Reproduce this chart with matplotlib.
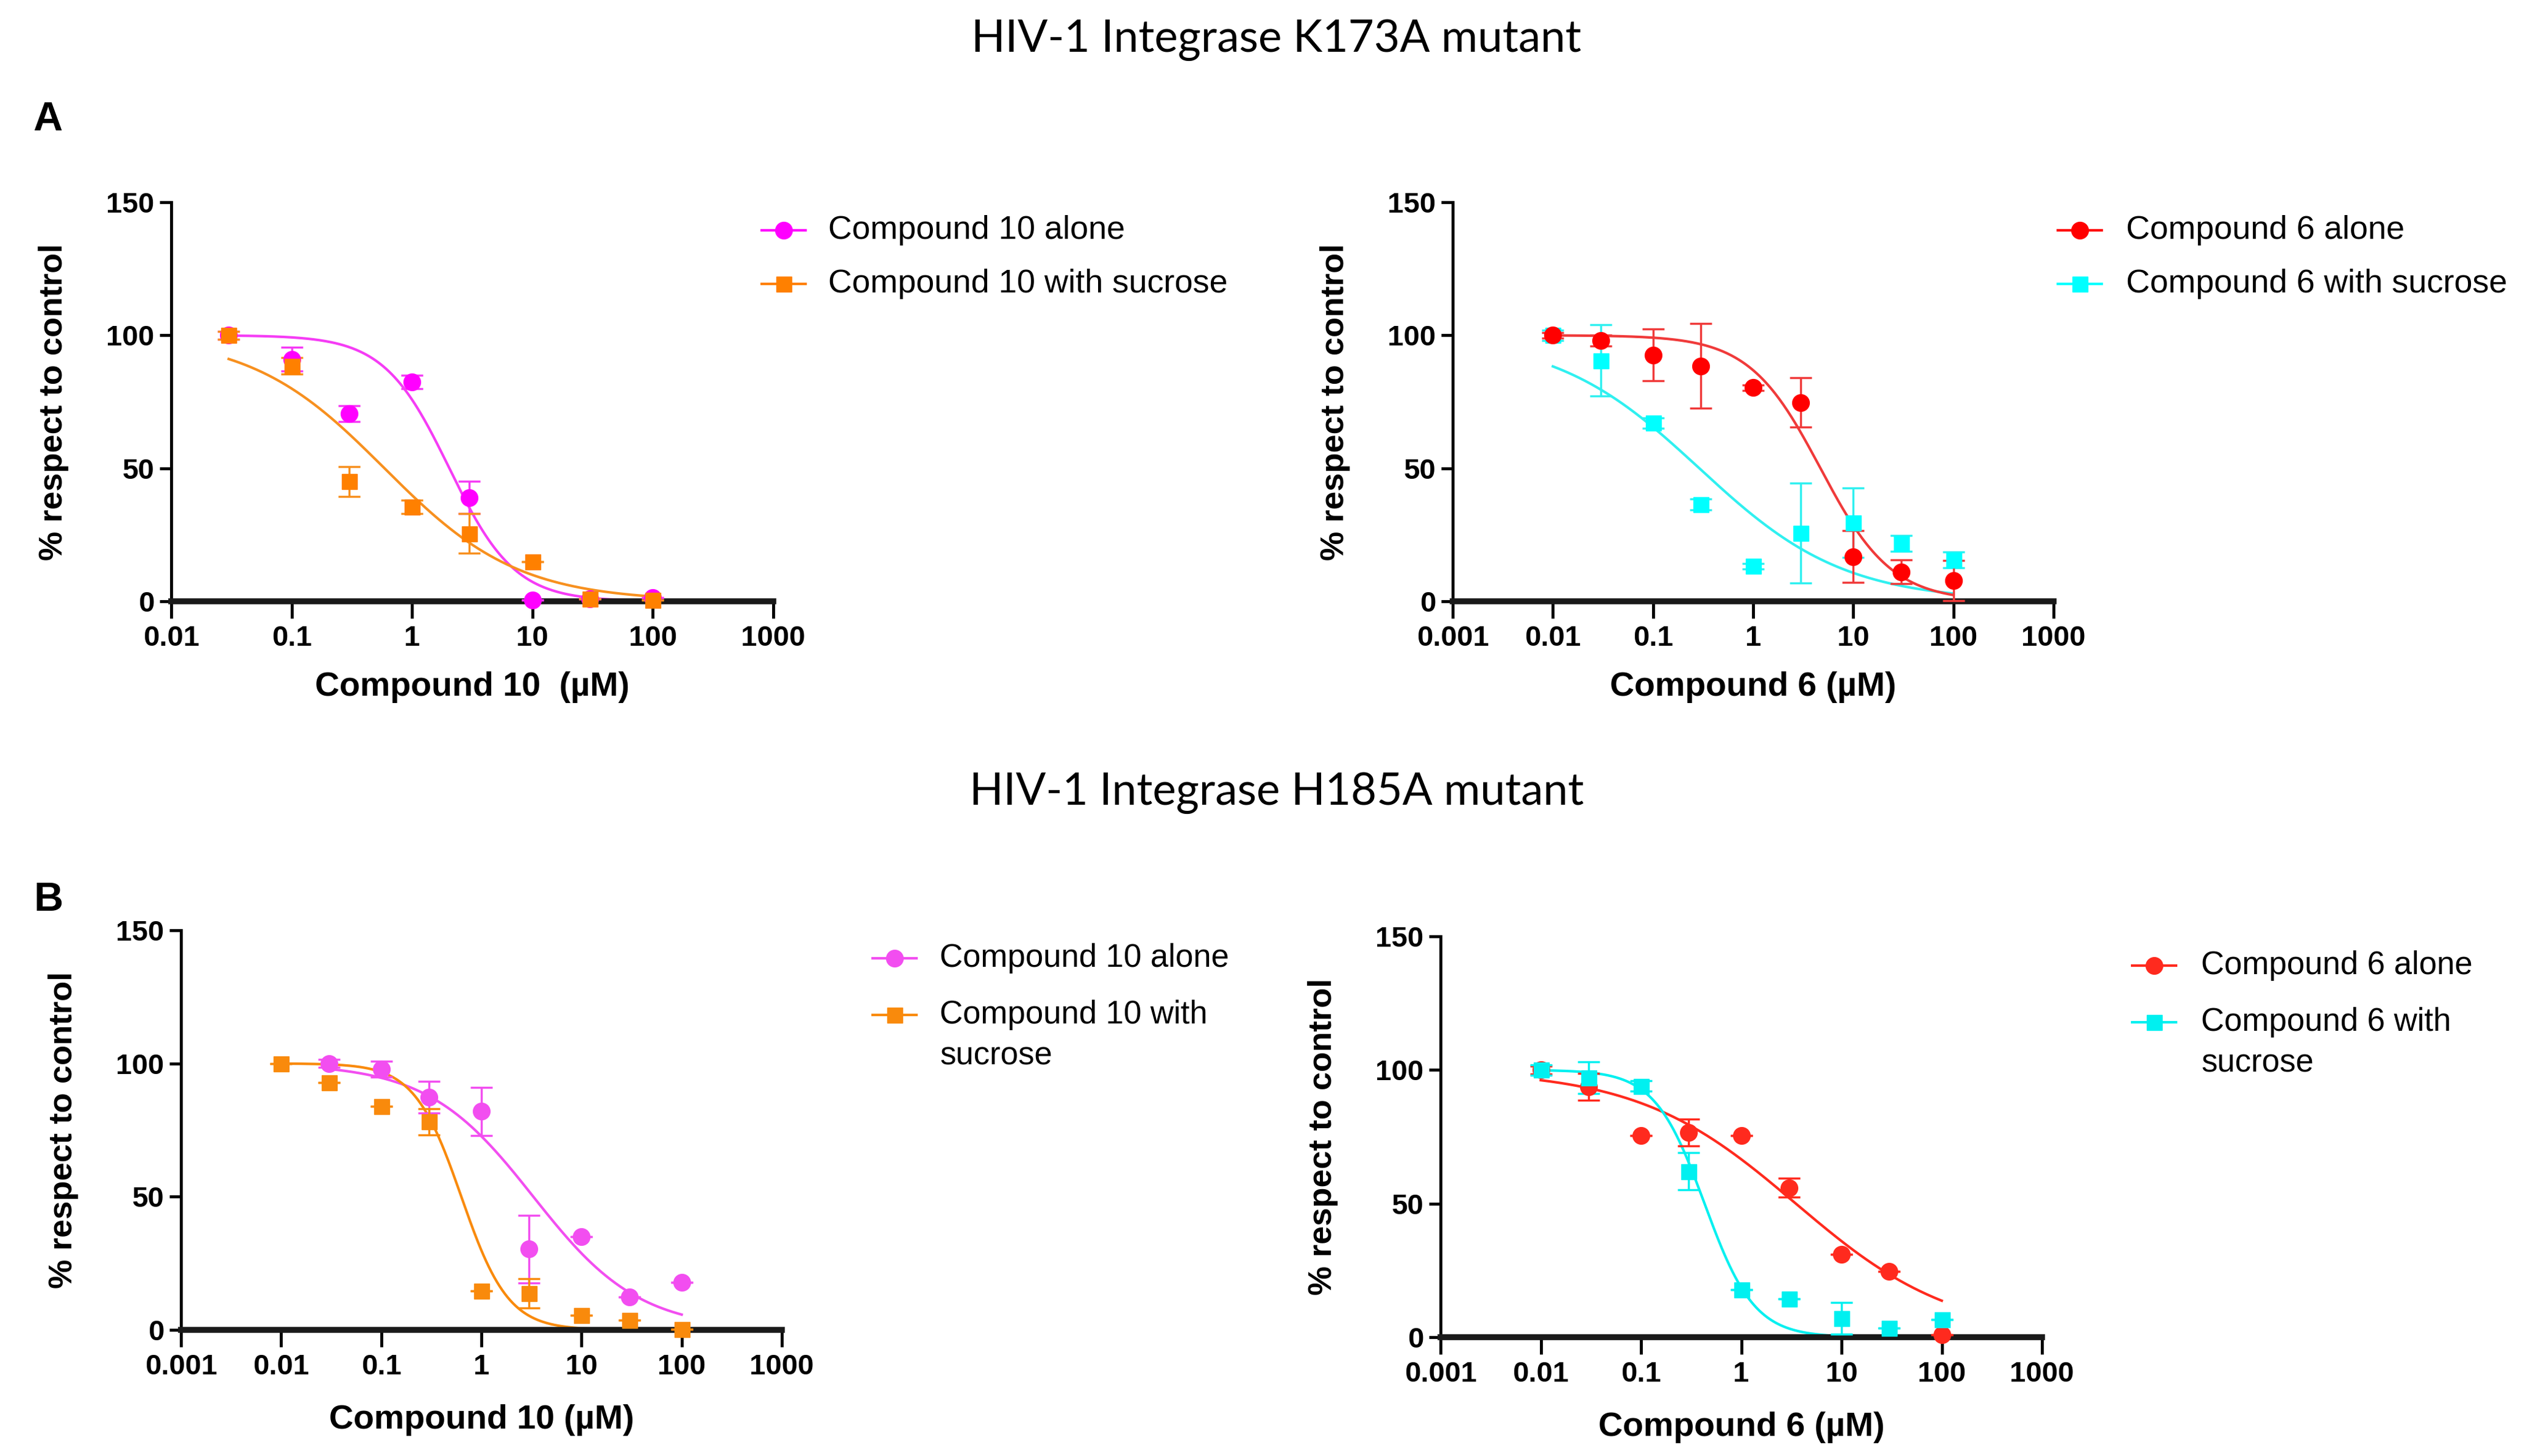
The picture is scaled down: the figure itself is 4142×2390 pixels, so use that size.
"""
Dose-response curves for compounds 6 and 10 on the HIV-1 integrase
K173A and H185A mutants, alone and with sucrose.
"""

import numpy as np
import matplotlib
matplotlib.use("Agg")
import matplotlib.pyplot as plt
from matplotlib.lines import Line2D

W, H = 4142, 2390

# ---- panel A, K173A: compound 10
a1_conc = [0.03, 0.1, 0.3, 1, 3, 10, 30, 100]
a1_alone = [100, 91, 70.5, 82.5, 39, 0.5, 1, 1.3]
a1_alone_err = [1.5, 4.5, 3, 2.5, 6, 0, 0, 0]
a1_suc = [100, 88.5, 45, 35.5, 25.5, 14.8, 1, 0.5]
a1_suc_err = [1.5, 3, 5.5, 2.5, 7.5, 0, 0, 0]
a1_fit_alone = (100, 0, 2.04, 1.6)    # top, bottom, IC50, hill
a1_fit_suc = (100, 0, 0.59, 0.78)

# ---- panel A, K173A: compound 6
a2_conc = [0.01, 0.03, 0.1, 0.3, 1, 3, 10, 30, 100]
a2_alone = [100, 98, 92.6, 88.5, 80.3, 74.7, 16.8, 11.1, 7.8]
a2_alone_err = [1, 2, 9.7, 16, 1, 9.3, 9.7, 4.5, 7.6]
a2_suc = [100, 90.5, 67, 36.4, 13.2, 25.7, 29.6, 21.8, 15.5]
a2_suc_err = [2, 13.4, 2, 2, 1, 18.8, 13, 3, 3]
a2_fit_alone = (100, 0, 4.7, 1.22)
a2_fit_suc = (100, 0, 0.29, 0.6)

# ---- panel B, H185A: compound 10
b1_conc_alone = [0.03, 0.1, 0.3, 1, 3, 10, 30, 100]
b1_alone = [100, 97.8, 87.3, 82, 30.3, 35, 12.3, 17.8]
b1_alone_err = [1.5, 3, 5.9, 9, 12.8, 0, 0, 0]
b1_conc_suc = [0.01, 0.03, 0.1, 0.3, 1, 3, 10, 30, 100]
b1_suc = [100, 92.8, 83.9, 78.1, 14.7, 13.8, 5.4, 3.7, 0.3]
b1_suc_err = [0, 0, 0, 5, 0, 5.5, 0, 0, 0]
b1_fit_alone = (100, 0, 3.3, 0.82)
b1_fit_suc = (100, 0, 0.63, 1.85)

# ---- panel B, H185A: compound 6
b2_conc = [0.01, 0.03, 0.1, 0.3, 1, 3, 10, 30, 100]
b2_alone = [100, 93.7, 75.4, 76.5, 75.4, 55.9, 30.9, 24.6, 1]
b2_alone_err = [1.5, 5, 0, 5, 0, 3.5, 0, 0, 0]
b2_suc = [100, 97.1, 94, 62.1, 17.7, 14.3, 7.1, 3.4, 6.7]
b2_suc_err = [2, 6, 2, 7, 0, 0, 6, 0, 0]
b2_fit_alone = (100, 0, 3.5, 0.55)
b2_fit_suc = (100, 0, 0.43, 1.75)

xticks_a1 = [0.01, 0.1, 1, 10, 100, 1000]
xticks_full = [0.001, 0.01, 0.1, 1, 10, 100, 1000]
xtick_labels_a1 = ["0.01", "0.1", "1", "10", "100", "1000"]
xtick_labels_full = ["0.001", "0.01", "0.1", "1", "10", "100", "1000"]
yticks = [0, 50, 100, 150]

FONT = ["Liberation Sans", "DejaVu Sans"]
plt.rcParams["font.family"] = FONT


def fx(px):
    return px / W


def fy(py):
    return 1 - py / H


def hill(x, p):
    top, bottom, ic50, h = p
    return bottom + (top - bottom) / (1 + (x / ic50) ** h)


def series(ax, conc, y, err, fit, color, line_color, marker, ms):
    xs = np.logspace(np.log10(conc[0]), np.log10(conc[-1]), 300)
    ax.plot(xs, hill(xs, fit), color=line_color, lw=3, zorder=2)
    ax.errorbar(conc, y, yerr=err, fmt=marker, color=color, ms=ms,
                ecolor=line_color, elinewidth=2.5, capsize=13, capthick=2.5,
                zorder=3, clip_on=False)


def setup(ax, ticks, labels, xlabel, xlim):
    ax.set_xscale("log")
    ax.set_xlim(*xlim)
    ax.set_ylim(0, 150)
    ax.set_xticks(ticks)
    ax.set_xticklabels(labels)
    ax.minorticks_off()
    ax.set_yticks(yticks)
    ax.spines[["top", "right"]].set_visible(False)
    ax.spines["left"].set_linewidth(3.5)
    ax.spines["bottom"].set_linewidth(7)
    ax.spines["bottom"].set_color("#1a1a1a")
    ax.tick_params(axis="x", length=20, width=3.5, labelsize=34, pad=8)
    ax.tick_params(axis="y", length=14, width=3.5, labelsize=34, pad=6)
    for lab in ax.get_xticklabels() + ax.get_yticklabels():
        lab.set_fontweight("bold")
    ax.set_ylabel("% respect to control", fontsize=39, fontweight="bold")
    ax.yaxis.set_label_coords(-0.17, 0.5)
    ax.set_xlabel(xlabel, fontsize=40, fontweight="bold", va="center")
    ax.xaxis.set_label_coords(0.5, -0.215)


def legend(fig, x_mark, x_text, rows, size):
    for y, label, color, marker, ms in rows:
        fig.add_artist(Line2D([fx(x_mark - 36), fx(x_mark + 36)], [fy(y), fy(y)],
                              color=color, lw=3, transform=fig.transFigure))
        fig.add_artist(Line2D([fx(x_mark)], [fy(y)], color=color, marker=marker,
                              ms=ms, ls="none", transform=fig.transFigure))
        for i, line in enumerate(label.split("\n")):
            fig.text(fx(x_text), fy(y + 67 * i), line, fontsize=size,
                     va="center", ha="left")


fig = plt.figure(figsize=(W / 100, H / 100), dpi=100)

# titles
fig.text(fx(2095), fy(66), "HIV-1 Integrase K173A mutant", fontsize=52.5,
         family=["Lato", "DejaVu Sans"], ha="center", va="center")
fig.text(fx(2095), fy(1302), "HIV-1 Integrase H185A mutant", fontsize=52.5,
         family=["Lato", "DejaVu Sans"], ha="center", va="center")
fig.text(fx(78), fy(197), "A", fontsize=48, fontweight="bold", ha="center", va="center")
fig.text(fx(80), fy(1478), "B", fontsize=48, fontweight="bold", ha="center", va="center")

MAG, ORA, RED, CYA = "#ff00ff", "#ff8000", "#ff0000", "#00ffff"
MAG_L, ORA_L, RED_L, CYA_L = "#f53cf5", "#f7901f", "#f03a3a", "#30f0f0"
MAG_B, ORA_B, RED_B, CYA_B = "#f24ef0", "#f98a0c", "#ff2a1e", "#00f0f0"

# A - compound 10
ax = fig.add_axes([fx(281), fy(987), fx(1269 - 281), (987 - 332) / H])
series(ax, a1_conc, a1_alone, a1_alone_err, a1_fit_alone, MAG, MAG_L, "o", 20)
series(ax, a1_conc, a1_suc, a1_suc_err, a1_fit_suc, ORA, ORA_L, "s", 18)
setup(ax, xticks_a1, xtick_labels_a1, "Compound 10  (\u00b5M)", (0.01, 1000))
legend(fig, 1286, 1359, [(378, "Compound 10 alone", MAG, "o", 20),
                         (466, "Compound 10 with sucrose", ORA, "s", 18)], 39)

# A - compound 6
ax = fig.add_axes([fx(2384), fy(987), fx(3370 - 2384), (987 - 332) / H])
series(ax, a2_conc, a2_suc, a2_suc_err, a2_fit_suc, CYA, CYA_L, "s", 18)
series(ax, a2_conc, a2_alone, a2_alone_err, a2_fit_alone, RED, RED_L, "o", 20)
setup(ax, xticks_full, xtick_labels_full, "Compound 6 (\u00b5M)", (0.001, 1000))
legend(fig, 3413, 3489, [(378, "Compound 6 alone", RED, "o", 20),
                         (466, "Compound 6 with sucrose", CYA, "s", 18)], 39)

# B - compound 10
ax = fig.add_axes([fx(297), fy(2183), fx(1283 - 297), (2183 - 1527) / H])
series(ax, b1_conc_alone, b1_alone, b1_alone_err, b1_fit_alone, MAG_B, MAG_B, "o", 20)
series(ax, b1_conc_suc, b1_suc, b1_suc_err, b1_fit_suc, ORA_B, ORA_B, "s", 18)
setup(ax, xticks_full, xtick_labels_full, "Compound 10 (\u00b5M)", (0.001, 1000))
ax.xaxis.set_label_coords(0.5, -0.225)
legend(fig, 1468, 1542, [(1573, "Compound 10 alone", MAG_B, "o", 20),
                         (1666, "Compound 10 with\nsucrose", ORA_B, "s", 18)], 38)

# B - compound 6
ax = fig.add_axes([fx(2364), fy(2195), fx(3351 - 2364), (2195 - 1537) / H])
series(ax, b2_conc, b2_alone, b2_alone_err, b2_fit_alone, RED_B, RED_B, "o", 20)
series(ax, b2_conc, b2_suc, b2_suc_err, b2_fit_suc, CYA_B, CYA_B, "s", 18)
setup(ax, xticks_full, xtick_labels_full, "Compound 6 (\u00b5M)", (0.001, 1000))
ax.xaxis.set_label_coords(0.5, -0.225)
legend(fig, 3535, 3612, [(1585, "Compound 6 alone", RED_B, "o", 20),
                         (1678, "Compound 6 with\nsucrose", CYA_B, "s", 18)], 38)

fig.savefig("out.png", dpi=100)
